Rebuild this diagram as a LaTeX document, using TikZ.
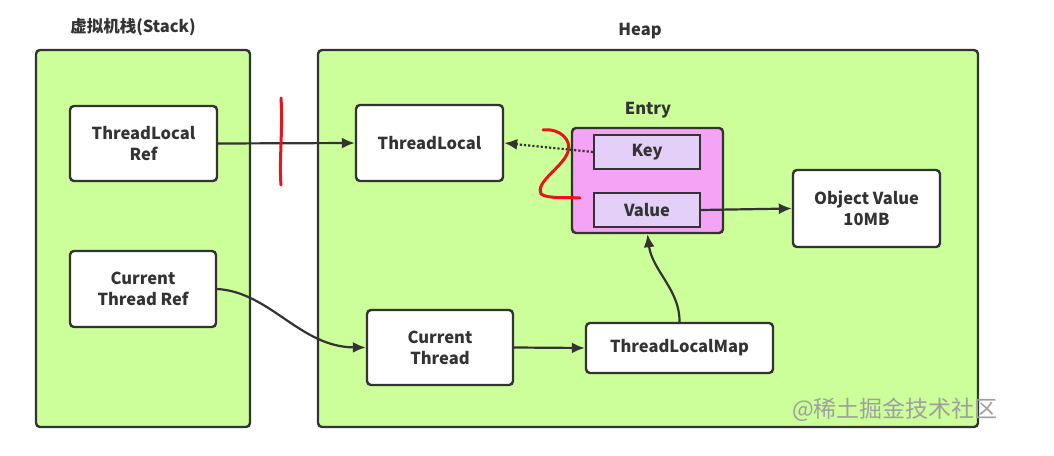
\documentclass[tikz,border=0pt]{standalone}
\usepackage{fontspec}
\setmainfont{Noto Sans CJK SC}
\usetikzlibrary{arrows.meta}
\definecolor{bggreen}{HTML}{CCFF99}
\definecolor{edge}{HTML}{333333}
\definecolor{entrypink}{HTML}{F5A3F5}
\definecolor{lav}{HTML}{E3CFF7}
\definecolor{redmark}{HTML}{E8141B}
\tikzset{
  area/.style={draw=edge, line width=2.4pt, fill=bggreen, rounded corners=4pt},
  box/.style={draw=edge, line width=2.4pt, fill=white, rounded corners=4pt, align=center, text=edge, font=\fontsize{16.5}{21}\selectfont\bfseries},
  inbox/.style={draw=edge, line width=2pt, fill=lav, align=center, text=edge, font=\fontsize{16.5}{21}\selectfont\bfseries},
  ttl/.style={text=edge, font=\fontsize{16.5}{21}\selectfont\bfseries},
  conn/.style={draw=edge, line width=2.2pt, -{Latex[length=13pt,width=11pt]}},
  red/.style={draw=redmark, line width=3pt, line cap=round, line join=round},
}
\begin{document}
\begin{tikzpicture}[x=1pt,y=-1pt]
\useasboundingbox (0,0) rectangle (1054,455);
\fill[white] (0,0) rectangle (1054,455);
% areas
\draw[area] (36,50) rectangle (250,427);
\draw[area] (318,50) rectangle (978,427);
\node[ttl] (stackt) at (133,27) {虚拟机栈(Stack)};
\node[ttl] (heapt) at (640,31) {Heap};
% boxes
\node[box, minimum width=147pt, minimum height=75pt] (tlref) at (143.5,143.5) {ThreadLocal\\Ref};
\node[box, minimum width=146pt, minimum height=76pt] (ctref) at (143,289) {Current\\Thread Ref};
\node[box, minimum width=147pt, minimum height=76pt] (tl) at (429.5,143) {ThreadLocal};
\node[ttl] (entryt) at (648,110) {Entry};
\node[draw=edge, line width=2.4pt, fill=entrypink, rounded corners=4pt, minimum width=151pt, minimum height=105pt] (entry) at (647.5,180.5) {};
\node[inbox, minimum width=106pt, minimum height=34pt] (key) at (647,152) {Key};
\node[inbox, minimum width=106pt, minimum height=34pt] (val) at (647,210) {Value};
\node[box, minimum width=147pt, minimum height=77pt] (obj) at (866.5,208.5) {Object Value\\10MB};
\node[box, minimum width=146pt, minimum height=75pt] (ct) at (440,347.5) {Current\\Thread};
\node[box, minimum width=187pt, minimum height=50pt] (tlm) at (679.5,348) {ThreadLocalMap};
% connectors
\draw[conn] (tlref.east) -- (tl.west);
\draw[conn, dotted] (key.west) -- (tl.east);
\draw[conn] (val.east) -- (obj.west);
\draw[conn] (ctref.east) .. controls (270,292) and (300,347) .. (ct.west);
\draw[conn] (ct.east) -- (tlm.west);
\draw[conn] (tlm.north) .. controls (680,290) and (652,270) .. (entry.south);
% red marks
\draw[red] (281,98) .. controls (283,130) and (279,160) .. (281,185);
\draw[red] (543,130) .. controls (560,128) and (572,140) .. (568,152) .. controls (562,168) and (535,182) .. (541,194) .. controls (548,199) and (565,197) .. (580,198);
% watermark
\node[text=gray!75, font=\fontsize{23}{25}\selectfont] (wm) at (895,410) {@稀土掘金技术社区};
\end{tikzpicture}
\end{document}
